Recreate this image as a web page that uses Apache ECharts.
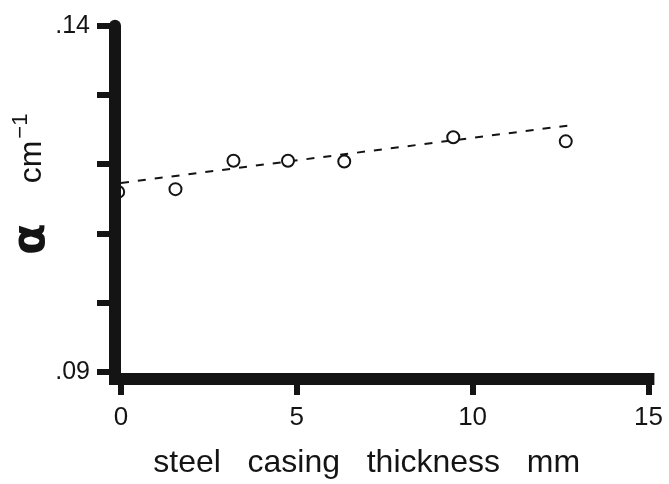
<!DOCTYPE html>
<html>
<head>
<meta charset="utf-8">
<title>alpha vs steel casing thickness</title>
<script src="https://cdn.jsdelivr.net/npm/echarts@6/dist/echarts.min.js"></script>
<style>
    html, body { margin: 0; padding: 0; background: #fff; }
    #chart { width: 669px; height: 484px; }
</style>
</head>
<body>
<div id="chart"></div>
<script>
// values
var thickness = [-0.08, 1.55, 3.2, 4.75, 6.35, 9.45, 12.65];   // mm
var alpha = [0.1160, 0.1164, 0.1205, 0.1205, 0.1204, 0.1239, 0.1233]; // cm^-1
var fitX = [0, 12.9];
var fitY = [0.1173, 0.1257];
var xTicks = [0, 5, 10, 15];
var yTicks = [0.09, 0.10, 0.11, 0.12, 0.13, 0.14];
var yLabels = [0.09, 0.14];

var ink = '#141414';

var points = thickness.map(function (x, i) { return [x, alpha[i]]; });
var fitLine = fitX.map(function (x, i) { return [x, fitY[i]]; });

var chart = echarts.init(document.getElementById('chart'));
chart.setOption({
    backgroundColor: '#fff',
    animation: false,
    grid: {
        left: 115, right: 20.6, top: 25.7, bottom: 105.1,
        containLabel: false,
        outerBoundsMode: 'none'
    },
    xAxis: {
        type: 'value',
        min: -0.17,
        max: 15,
        z: 5,
        axisLine: { onZero: false, lineStyle: { color: ink, width: 12, cap: 'square' } },
        axisTick: { customValues: xTicks, length: 16, lineStyle: { color: ink, width: 6 } },
        axisLabel: {
            customValues: xTicks,
            margin: 26,
            color: ink,
            fontSize: 26,
            fontFamily: 'Liberation Sans'
        },
        splitLine: { show: false },
        name: 'steel   casing   thickness   mm',
        nameLocation: 'middle',
        nameGap: 68,
        nameMoveOverlap: false,
        nameTextStyle: {
            color: ink,
            fontSize: 32,
            fontFamily: 'Liberation Sans',
            padding: [0, 30, 0, 0]
        }
    },
    yAxis: {
        type: 'value',
        min: 0.089,
        max: 0.14,
        z: 5,
        axisLine: { onZero: false, lineStyle: { color: ink, width: 12 } },
        axisTick: { customValues: yTicks, length: 18, lineStyle: { color: ink, width: 6 } },
        axisLabel: {
            customValues: yLabels,
            margin: 25,
            color: ink,
            fontSize: 25,
            fontFamily: 'Liberation Sans',
            formatter: function (v) { return v.toFixed(2).replace(/^0/, ''); }
        },
        splitLine: { show: false },
        name: '{a|α}{g| }{c|cm}{s|−1}',
        nameLocation: 'middle',
        nameRotate: 90,
        nameGap: 61,
        nameMoveOverlap: false,
        nameTextStyle: {
            color: ink,
            padding: [0, 0, 0, 36],
            rich: {
                a: { fontSize: 46, fontWeight: 'bold', fontFamily: 'DejaVu Sans', lineHeight: 44, color: ink },
                g: { width: 40, fontSize: 10 },
                c: { fontSize: 32, fontFamily: 'Liberation Sans', lineHeight: 44, color: ink },
                s: { fontSize: 22, fontFamily: 'Liberation Sans', lineHeight: 22, verticalAlign: 'top', color: ink, padding: [0, 0, 0, 2] }
            }
        }
    },
    series: [
        {
            name: 'fit',
            type: 'line',
            data: fitLine,
            symbol: 'none',
            silent: true,
            lineStyle: { color: ink, width: 2, type: [8, 9] },
            z: 2
        },
        {
            name: 'alpha',
            type: 'scatter',
            data: points,
            symbol: 'circle',
            symbolSize: 12,
            itemStyle: { color: '#fff', borderColor: ink, borderWidth: 2, opacity: 1 },
            z: 3
        }
    ]
});
</script>
</body>
</html>
